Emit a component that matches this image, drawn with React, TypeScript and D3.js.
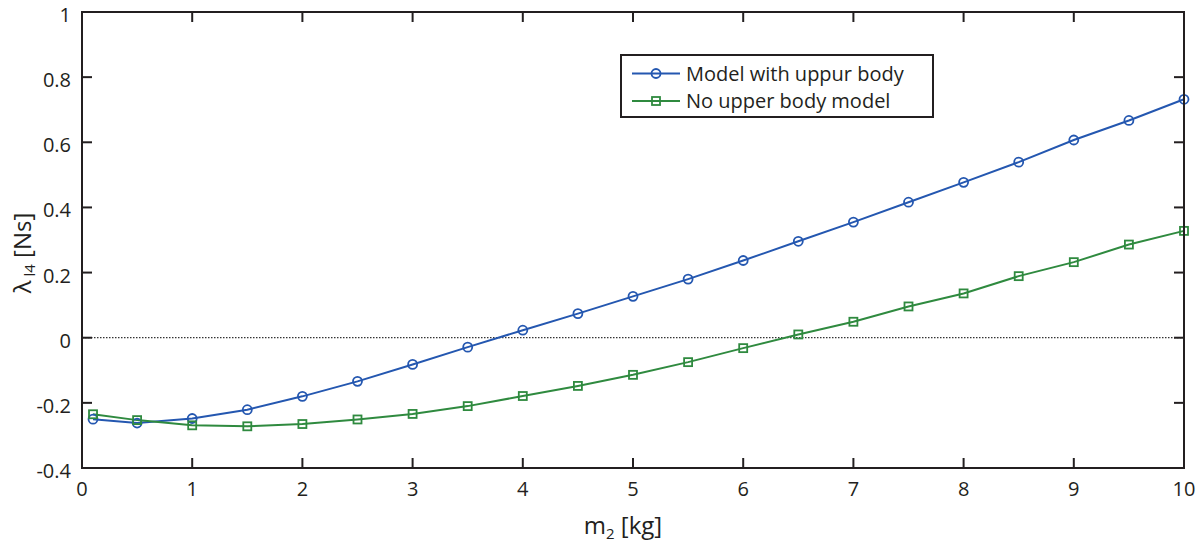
import React from "react";
import * as d3 from "d3";

const masses = [0.1, 0.5, 1, 1.5, 2, 2.5, 3, 3.5, 4, 4.5, 5, 5.5, 6, 6.5, 7, 7.5, 8, 8.5, 9, 9.5, 10];
const withUpperBody = [-0.25, -0.262, -0.248, -0.221, -0.18, -0.134, -0.082, -0.029, 0.023, 0.074, 0.127, 0.18, 0.237, 0.296, 0.355, 0.416, 0.477, 0.539, 0.607, 0.667, 0.732];
const noUpperBody = [-0.235, -0.253, -0.269, -0.272, -0.265, -0.251, -0.234, -0.21, -0.179, -0.148, -0.114, -0.075, -0.032, 0.01, 0.049, 0.096, 0.136, 0.189, 0.232, 0.286, 0.328];
const xTicks = [0, 1, 2, 3, 4, 5, 6, 7, 8, 9, 10];
const yTicks = [-0.4, -0.2, 0, 0.2, 0.4, 0.6, 0.8, 1];
const yTickLabels = ["-0.4", "-0.2", "0", "0.2", "0.4", "0.6", "0.8", "1"];
const seriesNames = ["Model with uppur body", "No upper body model"];

const W = 1203, H = 545;
const L = 82, R = 1184, T = 12, B = 468;
const BLUE = "#2457b0";
const GREEN = "#2f8a3f";
const AX = "#231f20";
const FONT = "'Open Sans', 'Noto Sans', sans-serif";

export default function App() {
  const x = d3.scaleLinear().domain([0, 10]).range([L, R]);
  const y = d3.scaleLinear().domain([-0.4, 1]).range([B, T]);
  const line = d3.line<number>().x((_, i) => x(masses[i])).y((d) => y(d));
  const tickLen = 10;
  return (
    <svg width={W} height={H} style={{ position: "absolute", left: 0, top: 0, background: "#fff" }}>
      <rect x={0} y={0} width={W} height={H} fill="#fff" />
      <line x1={L} x2={R} y1={y(0)} y2={y(0)} stroke="#000" strokeWidth={1} strokeDasharray="1.5,1.5" />
      <path d={line(withUpperBody) || ""} fill="none" stroke={BLUE} strokeWidth={2} />
      <path d={line(noUpperBody) || ""} fill="none" stroke={GREEN} strokeWidth={2} />
      {withUpperBody.map((v, i) => (
        <circle key={"b" + i} cx={x(masses[i])} cy={y(v)} r={4.5} fill="none" stroke={BLUE} strokeWidth={1.8} />
      ))}
      {noUpperBody.map((v, i) => (
        <rect key={"g" + i} x={x(masses[i]) - 4} y={y(v) - 4} width={8} height={8} fill="none" stroke={GREEN} strokeWidth={1.8} />
      ))}
      <rect x={L} y={T} width={R - L} height={B - T} fill="none" stroke={AX} strokeWidth={2} />
      {xTicks.map((t) => (
        <g key={"xt" + t}>
          <line x1={x(t)} x2={x(t)} y1={B} y2={B - tickLen} stroke={AX} strokeWidth={2} />
          <line x1={x(t)} x2={x(t)} y1={T} y2={T + tickLen} stroke={AX} strokeWidth={2} />
          <text x={x(t)} y={496} textAnchor="middle" fontFamily={FONT} fontSize={20} fill="#231f20">{t}</text>
        </g>
      ))}
      {yTicks.map((t, i) => (
        <g key={"yt" + t}>
          <line x1={L} x2={L + tickLen} y1={y(t)} y2={y(t)} stroke={AX} strokeWidth={2} />
          <line x1={R} x2={R - tickLen} y1={y(t)} y2={y(t)} stroke={AX} strokeWidth={2} />
          <text x={71} y={y(t) + 10} textAnchor="end" fontFamily={FONT} fontSize={20} fill="#231f20">{yTickLabels[i]}</text>
        </g>
      ))}
      <text x={623} y={534} textAnchor="middle" fontFamily={FONT} fontSize={24} fill="#231f20">
        m<tspan fontSize={15} dy={5}>2</tspan><tspan dy={-5}> [kg]</tspan>
      </text>
      <text transform={`translate(31,253) rotate(-90)`} textAnchor="middle" fontFamily={FONT} fontSize={24} fill="#231f20">
        λ<tspan fontSize={15} dy={4}> l4</tspan><tspan dy={-4}> [Ns]</tspan>
      </text>
      <rect x={621} y={55} width={312} height={62} fill="#fff" stroke={AX} strokeWidth={2} />
      {[0, 1].map((i) => {
        const ly = i === 0 ? 73.5 : 101;
        const c = i === 0 ? BLUE : GREEN;
        return (
          <g key={"lg" + i}>
            <line x1={632} x2={680} y1={ly} y2={ly} stroke={c} strokeWidth={2} />
            {i === 0 ? (
              <circle cx={656} cy={ly} r={4.5} fill="none" stroke={c} strokeWidth={1.8} />
            ) : (
              <rect x={652} y={ly - 4} width={8} height={8} fill="none" stroke={c} strokeWidth={1.8} />
            )}
            <text x={686} y={ly + 7} fontFamily={FONT} fontSize={20} fill="#231f20">{seriesNames[i]}</text>
          </g>
        );
      })}
    </svg>
  );
}
